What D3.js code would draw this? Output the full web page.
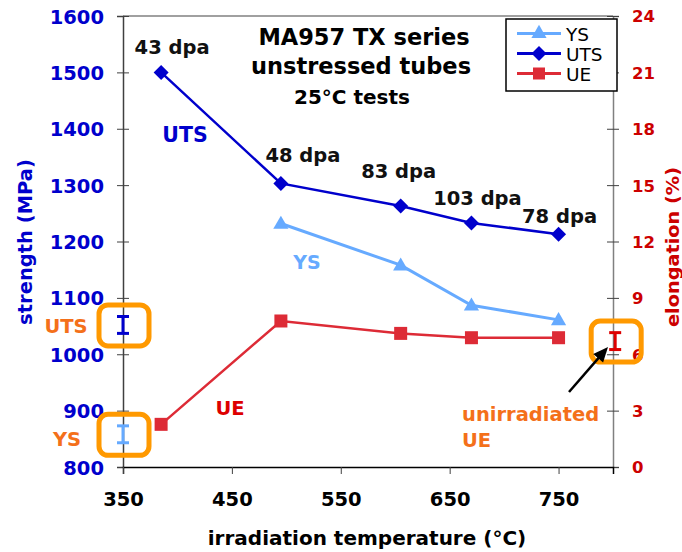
<!DOCTYPE html>
<html>
<head>
<meta charset="utf-8">
<script src="https://cdn.jsdelivr.net/npm/d3@7/dist/d3.min.js"></script>
<style>
  html, body { margin: 0; padding: 0; background: #fff; }
  svg { display: block; font-family: "DejaVu Sans", Verdana, sans-serif; }
</style>
</head>
<body>
<svg id="chart" width="682" height="552"></svg>
<script>
// MA957 TX series, unstressed tubes, 25°C tensile tests
const temps = [385, 495, 605, 670, 750];
const doses = ["43 dpa", "48 dpa", "83 dpa", "103 dpa", "78 dpa"];
const utsValues = [1500, 1303, 1263, 1233, 1213];
const ysValues = [null, 1232, 1158, 1087, 1061];
const ueValues = [2.27, 7.77, 7.11, 6.88, 6.88];

// unirradiated reference values (value, half-range)
const unirrUTS = { t: 350, v: 1052, err: 15 };
const unirrYS = { t: 350, v: 858, err: 15 };
const unirrUE = { t: 802, v: 6.7, err: 0.45 };

const xTicks = [350, 450, 550, 650, 750];
const strengthTicks = [800, 900, 1000, 1100, 1200, 1300, 1400, 1500, 1600];
const elongTicks = [0, 3, 6, 9, 12, 15, 18, 21, 24];

const C = {
  uts: "#0000CC",
  ys: "#66AAFF",
  ue: "#DD2B36",
  ueDark: "#CC0000",
  orange: "#FF9900",
  orangeText: "#F4701A"
};

const svg = d3.select("#chart");
const plotL = 123, plotR = 613, plotT = 16, plotB = 467;

const x = d3.scaleLinear().domain([350, 800]).range([plotL, plotR]);
const yS = d3.scaleLinear().domain([800, 1600]).range([plotB, plotT]);
const yE = d3.scaleLinear().domain([0, 24]).range([plotB, plotT]);

// frame: top border
svg.append("line").attr("x1", plotL).attr("x2", plotR).attr("y1", plotT).attr("y2", plotT)
  .attr("stroke", "#808080").attr("stroke-width", 1.5);

// left axis (cross ticks)
const gL = svg.append("g").attr("transform", `translate(${plotL},0)`)
  .call(d3.axisLeft(yS).tickValues(strengthTicks).tickSize(6).tickFormat(d3.format("d")));
gL.select(".domain").attr("stroke", "#404040").attr("stroke-width", 1.5);
gL.selectAll(".tick line").attr("x1", 6).attr("stroke", "#404040").attr("stroke-width", 1);
gL.selectAll(".tick text").attr("x", -19).attr("dy", "0.36em")
  .attr("fill", C.uts).attr("font-size", 19.5).attr("font-weight", "bold")
  .attr("font-family", "DejaVu Sans, Verdana, sans-serif");

// right axis (cross ticks)
const gR = svg.append("g").attr("transform", `translate(${plotR},0)`)
  .call(d3.axisRight(yE).tickValues(elongTicks).tickSize(6).tickFormat(d3.format("d")));
gR.select(".domain").attr("stroke", "#808080").attr("stroke-width", 1.5);
gR.selectAll(".tick line").attr("x1", -6).attr("stroke", "#404040").attr("stroke-width", 1);
gR.selectAll(".tick text").attr("x", 19).attr("dy", "0.36em")
  .attr("fill", C.ueDark).attr("font-size", 16.5).attr("font-weight", "bold")
  .attr("font-family", "DejaVu Sans, Verdana, sans-serif");

// bottom axis
const gB = svg.append("g").attr("transform", `translate(0,${plotB})`)
  .call(d3.axisBottom(x).tickValues(xTicks).tickSize(7).tickFormat(d3.format("d")));
gB.select(".domain").attr("stroke", "#000").attr("stroke-width", 1.5);
gB.selectAll(".tick line").attr("stroke", "#404040");
gB.selectAll(".tick text").attr("y", 25).attr("dy", "0.71em")
  .attr("fill", "#000").attr("font-size", 19.5).attr("font-weight", "bold")
  .attr("font-family", "DejaVu Sans, Verdana, sans-serif");

// axis titles
svg.append("text").attr("x", 367).attr("y", 545).attr("text-anchor", "middle")
  .attr("font-size", 20).attr("font-weight", "bold").attr("fill", "#000")
  .text("irradiation temperature (°C)");
svg.append("text").attr("transform", "translate(32,242) rotate(-90)").attr("text-anchor", "middle")
  .attr("font-size", 19.5).attr("font-weight", "bold").attr("fill", C.uts)
  .text("strength (MPa)");
svg.append("text").attr("transform", "translate(679,247) rotate(-90)").attr("text-anchor", "middle")
  .attr("font-size", 17).attr("font-weight", "bold").attr("fill", C.ueDark)
  .attr("textLength", 160).attr("lengthAdjust", "spacingAndGlyphs")
  .text("elongation (%)");

// series lines
const ysPts = temps.map((t, i) => [t, ysValues[i]]).filter(d => d[1] != null);
const utsPts = temps.map((t, i) => [t, utsValues[i]]);
const uePts = temps.map((t, i) => [t, ueValues[i]]);

const lineS = d3.line().x(d => x(d[0])).y(d => yS(d[1]));
const lineE = d3.line().x(d => x(d[0])).y(d => yE(d[1]));

svg.append("path").attr("d", lineE(uePts)).attr("fill", "none").attr("stroke", C.ue).attr("stroke-width", 2.5);
svg.append("path").attr("d", lineS(ysPts)).attr("fill", "none").attr("stroke", C.ys).attr("stroke-width", 3);
svg.append("path").attr("d", lineS(utsPts)).attr("fill", "none").attr("stroke", C.uts).attr("stroke-width", 2.5);

const triangle = d3.symbol().type(d3.symbolTriangle).size(100);
const diamond = "M0,-7.5L7.5,0L0,7.5L-7.5,0Z";

svg.selectAll(".ue-pt").data(uePts).join("rect").attr("class", "ue-pt")
  .attr("x", d => x(d[0]) - 6.5).attr("y", d => yE(d[1]) - 6.5)
  .attr("width", 13).attr("height", 13).attr("fill", C.ue);
svg.selectAll(".ys-pt").data(ysPts).join("path").attr("class", "ys-pt")
  .attr("transform", d => `translate(${x(d[0])},${yS(d[1]) + 1})`)
  .attr("d", triangle).attr("fill", C.ys);
svg.selectAll(".uts-pt").data(utsPts).join("path").attr("class", "uts-pt")
  .attr("transform", d => `translate(${x(d[0])},${yS(d[1])})`)
  .attr("d", diamond).attr("fill", C.uts);

// dose labels
const doseOffsets = [[11, -18], [22, -21], [-2, -28], [6, -18], [1, -11]];
svg.selectAll(".dose").data(temps).join("text").attr("class", "dose")
  .attr("x", (t, i) => x(t) + doseOffsets[i][0])
  .attr("y", (t, i) => yS(utsValues[i]) + doseOffsets[i][1])
  .attr("text-anchor", "middle").attr("font-size", 19.5).attr("font-weight", "bold")
  .attr("fill", "#111").text((t, i) => doses[i]);

// series annotations
svg.append("text").attr("x", 185).attr("y", 142).attr("text-anchor", "middle")
  .attr("font-size", 20.5).attr("font-weight", "bold").attr("fill", C.uts).text("UTS");
svg.append("text").attr("x", 307).attr("y", 269).attr("text-anchor", "middle")
  .attr("font-size", 19).attr("font-weight", "bold").attr("fill", C.ys).text("YS");
svg.append("text").attr("x", 230).attr("y", 415).attr("text-anchor", "middle")
  .attr("font-size", 19.5).attr("font-weight", "bold").attr("fill", "#DD0000").text("UE");

// title block
const title = svg.append("g").attr("text-anchor", "middle").attr("font-weight", "bold").attr("fill", "#000");
title.append("text").attr("x", 364).attr("y", 45).attr("font-size", 22.5).text("MA957 TX series");
title.append("text").attr("x", 361).attr("y", 74).attr("font-size", 22.5).text("unstressed tubes");
title.append("text").attr("x", 352).attr("y", 104).attr("font-size", 20).text("25°C tests");

// unirradiated reference bars with highlight boxes
function refBar(ref, yScale, color) {
  const cx = x(ref.t), cy = yScale(ref.v);
  const y1 = yScale(ref.v + ref.err), y2 = yScale(ref.v - ref.err);
  const g = svg.append("g");
  g.append("line").attr("x1", cx).attr("x2", cx).attr("y1", y1).attr("y2", y2)
    .attr("stroke", color).attr("stroke-width", 3);
  [y1, y2].forEach(yy => g.append("line").attr("x1", cx - 6).attr("x2", cx + 6)
    .attr("y1", yy).attr("y2", yy).attr("stroke", color).attr("stroke-width", 3));
  g.append("rect").attr("x", cx - 24).attr("y", cy - 20).attr("width", 50).attr("height", 41)
    .attr("rx", 9).attr("fill", "none").attr("stroke", C.orange).attr("stroke-width", 5);
}
refBar(unirrUTS, yS, C.uts);
refBar(unirrYS, yS, C.ys);
refBar(unirrUE, yE, "#DD0000");

svg.append("text").attr("x", 66).attr("y", 333).attr("text-anchor", "middle")
  .attr("font-size", 19.5).attr("font-weight", "bold").attr("fill", C.orangeText).text("UTS");
svg.append("text").attr("x", 67).attr("y", 446).attr("text-anchor", "middle")
  .attr("font-size", 19.5).attr("font-weight", "bold").attr("fill", C.orangeText).text("YS");

const note = svg.append("g").attr("font-size", 19.5).attr("font-weight", "bold").attr("fill", C.orangeText);
note.append("text").attr("x", 462).attr("y", 421).text("unirradiated");
note.append("text").attr("x", 462).attr("y", 447).text("UE");

// arrow pointing at the unirradiated UE bar
const arrowFrom = [569, 392], arrowTo = [608, 347];
const ang = Math.atan2(arrowTo[1] - arrowFrom[1], arrowTo[0] - arrowFrom[0]);
const headLen = 15, headHalf = 6.5;
const base = [arrowTo[0] - headLen * Math.cos(ang), arrowTo[1] - headLen * Math.sin(ang)];
svg.append("line").attr("x1", arrowFrom[0]).attr("y1", arrowFrom[1])
  .attr("x2", base[0] + 3 * Math.cos(ang)).attr("y2", base[1] + 3 * Math.sin(ang))
  .attr("stroke", "#000").attr("stroke-width", 2.5);
svg.append("path").attr("fill", "#000").attr("d",
  `M${arrowTo[0]},${arrowTo[1]}` +
  `L${base[0] + headHalf * Math.sin(ang)},${base[1] - headHalf * Math.cos(ang)}` +
  `L${base[0] - headHalf * Math.sin(ang)},${base[1] + headHalf * Math.cos(ang)}Z`);

// legend
const legend = svg.append("g");
legend.append("rect").attr("x", 506).attr("y", 19).attr("width", 111).attr("height", 72)
  .attr("fill", "#fff").attr("stroke", "#000").attr("stroke-width", 1.5);
const legendItems = [
  { name: "YS", color: C.ys, mark: "tri" },
  { name: "UTS", color: C.uts, mark: "dia" },
  { name: "UE", color: C.ue, mark: "sq" }
];
legendItems.forEach((d, i) => {
  const cy = 33.5 + i * 20;
  legend.append("line").attr("x1", 517).attr("x2", 561).attr("y1", cy).attr("y2", cy)
    .attr("stroke", d.color).attr("stroke-width", 3);
  if (d.mark === "tri") legend.append("path").attr("transform", `translate(539,${cy})`).attr("d", triangle).attr("fill", d.color);
  if (d.mark === "dia") legend.append("path").attr("transform", `translate(539,${cy})`).attr("d", diamond).attr("fill", d.color);
  if (d.mark === "sq") legend.append("rect").attr("x", 533).attr("y", cy - 6).attr("width", 12).attr("height", 12).attr("fill", d.color);
  legend.append("text").attr("x", 566).attr("y", cy + 7).attr("font-size", 18.5)
    .attr("fill", "#000").text(d.name);
});
</script>
</body>
</html>
